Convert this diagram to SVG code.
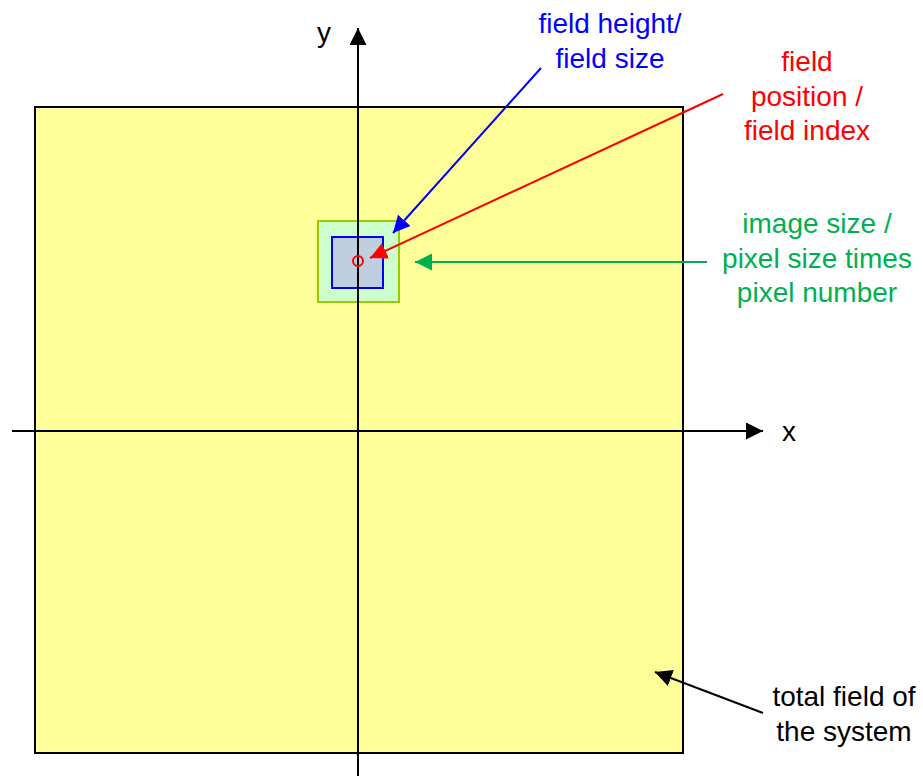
<svg xmlns="http://www.w3.org/2000/svg" width="923" height="778" viewBox="0 0 923 778">
<defs>
<style>
text{font-family:"Liberation Sans",Arial,sans-serif;font-size:28px;text-anchor:middle}
.ax{stroke:#000;stroke-width:2;fill:none}
</style>
<marker id="ak" viewBox="0 0 10 10" refX="10" refY="5" markerWidth="9" markerHeight="9" markerUnits="userSpaceOnUse" orient="auto"><path d="M0,0L10,5L0,10z" fill="#000"/></marker>
<marker id="aax" viewBox="0 0 10 10" refX="10" refY="5" markerWidth="17" markerHeight="17" markerUnits="userSpaceOnUse" orient="auto"><path d="M0,0L10,5L0,10z" fill="#000"/></marker>
<marker id="ab" viewBox="0 0 10 10" refX="10" refY="5" markerWidth="17" markerHeight="17" markerUnits="userSpaceOnUse" orient="auto"><path d="M0,0L10,5L0,10z" fill="#0000ff"/></marker>
<marker id="ar" viewBox="0 0 10 10" refX="10" refY="5" markerWidth="17" markerHeight="17" markerUnits="userSpaceOnUse" orient="auto"><path d="M0,0L10,5L0,10z" fill="#ff0000"/></marker>
<marker id="ag" viewBox="0 0 10 10" refX="10" refY="5" markerWidth="17" markerHeight="17" markerUnits="userSpaceOnUse" orient="auto"><path d="M0,0L10,5L0,10z" fill="#00b050"/></marker>
<marker id="abk" viewBox="0 0 10 10" refX="10" refY="5" markerWidth="17" markerHeight="17" markerUnits="userSpaceOnUse" orient="auto"><path d="M0,0L10,5L0,10z" fill="#000"/></marker>
</defs>
<g id="total-field">
<rect x="35" y="107" width="648" height="646" fill="#ffff99" stroke="#000" stroke-width="2"/>
</g>
<g id="image-field">
<rect x="318" y="221" width="81" height="81" fill="#ccffcc" stroke="#99cc00" stroke-width="2"/>
</g>
<g id="field">
<rect x="332" y="237" width="51" height="51" fill="#c0cfe0" stroke="#0000ff" stroke-width="2"/>
</g>
<g id="axes">
<line class="ax" x1="358" y1="776" x2="358" y2="28" marker-end="url(#aax)"/>
<line class="ax" x1="12" y1="431" x2="763" y2="431" marker-end="url(#aax)"/>
</g>
<g id="position">
<circle cx="358" cy="261" r="5" fill="none" stroke="#ff0000" stroke-width="2"/>
</g>
<g id="connectors">
<line x1="541" y1="68" x2="393" y2="233" stroke="#0000ff" stroke-width="2" marker-end="url(#ab)"/>
<line x1="723" y1="94" x2="370" y2="258" stroke="#ff0000" stroke-width="2" marker-end="url(#ar)"/>
<line x1="707" y1="262" x2="415" y2="262" stroke="#00b050" stroke-width="2" marker-end="url(#ag)"/>
<line x1="763" y1="713" x2="655" y2="672" stroke="#000" stroke-width="2" marker-end="url(#abk)"/>
</g>
<g id="labels">
<text x="324" y="42">y</text>
<text x="789" y="441">x</text>
<text fill="#0000ff"><tspan x="610" y="33">field height/</tspan><tspan x="610" y="68">field size</tspan></text>
<text fill="#ff0000"><tspan x="807" y="71">field</tspan><tspan x="807" y="106">position /</tspan><tspan x="807" y="140">field index</tspan></text>
<text fill="#00b050"><tspan x="817" y="233">image size /</tspan><tspan x="817" y="268">pixel size times</tspan><tspan x="817" y="302">pixel number</tspan></text>
<text fill="#000"><tspan x="844" y="706">total field of</tspan><tspan x="844" y="741">the system</tspan></text>
</g>
</svg>
